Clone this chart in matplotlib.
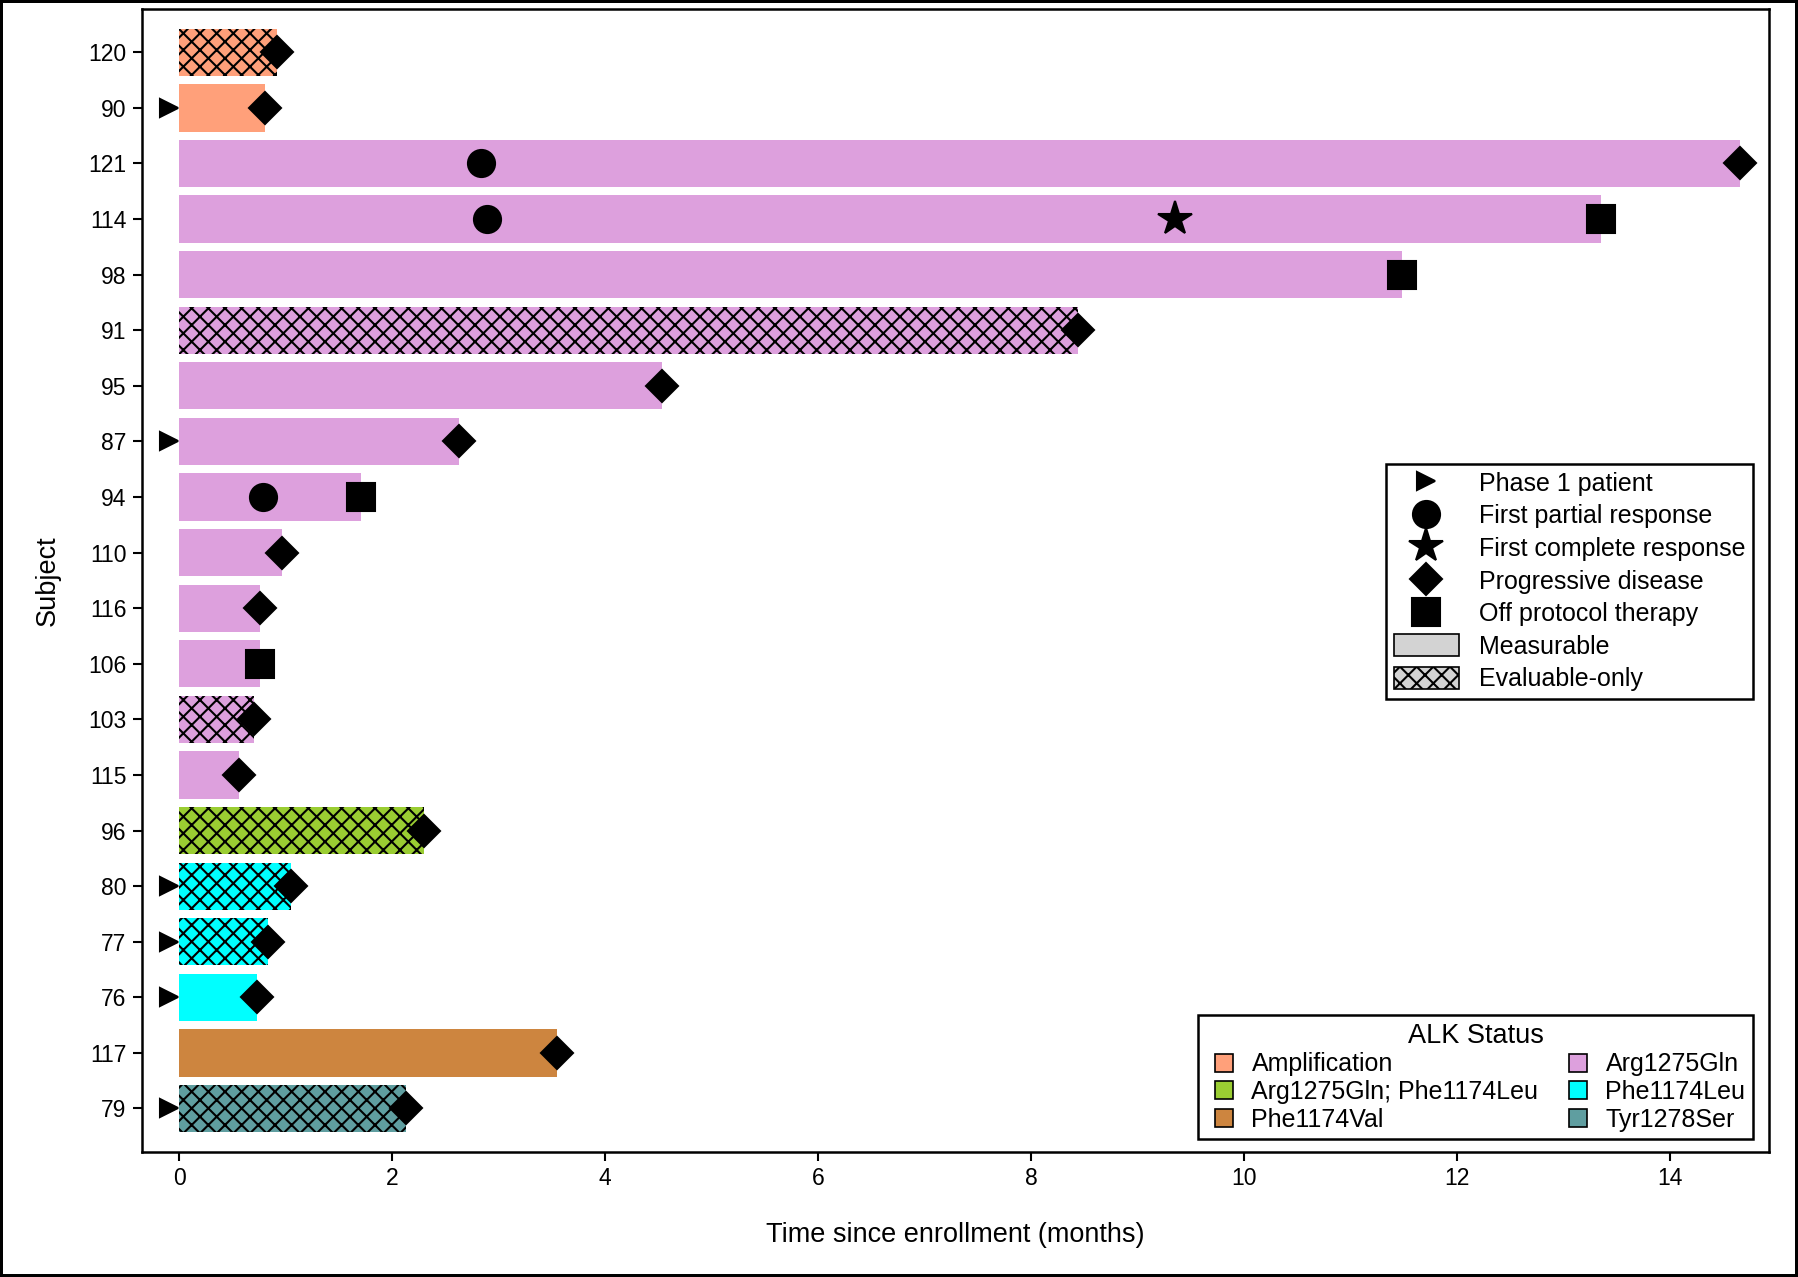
import numpy as np
import matplotlib.pyplot as plt
from matplotlib.lines import Line2D
from matplotlib.patches import Patch

plt.rcParams['font.family'] = ['Liberation Sans', 'DejaVu Sans']
plt.rcParams['hatch.linewidth'] = 1.0

# Subjects, top to bottom
subjects = ['120', '90', '121', '114', '98', '91', '95', '87', '94', '110',
            '116', '106', '103', '115', '96', '80', '77', '76', '117', '79']
durations = [0.92, 0.80, 14.66, 13.35, 11.48, 8.44, 4.53, 2.63, 1.71, 0.96,
             0.76, 0.76, 0.70, 0.56, 2.30, 1.05, 0.83, 0.73, 3.55, 2.13]
status = ['Amplification', 'Amplification'] + ['Arg1275Gln'] * 12 + \
         ['Arg1275Gln; Phe1174Leu', 'Phe1174Leu', 'Phe1174Leu', 'Phe1174Leu',
          'Phe1174Val', 'Tyr1278Ser']
evaluable_only = ['120', '91', '103', '96', '80', '77', '79']
phase1 = ['90', '87', '80', '77', '76', '79']

partial_subj = ['121', '114', '94']
partial_time = [2.83, 2.89, 0.79]
complete_subj = ['114']
complete_time = [9.35]
progress_subj = ['120', '90', '121', '91', '95', '87', '110', '116', '103',
                 '115', '96', '80', '77', '76', '117', '79']
progress_time = [0.92, 0.80, 14.66, 8.44, 4.53, 2.63, 0.96, 0.76, 0.70,
                 0.56, 2.30, 1.05, 0.83, 0.73, 3.55, 2.13]
offprot_subj = ['114', '98', '94', '106']
offprot_time = [13.35, 11.48, 1.71, 0.76]

# legend order (filled column by column, reads row by row)
status_order = ['Amplification', 'Arg1275Gln; Phe1174Leu', 'Phe1174Val',
                'Arg1275Gln', 'Phe1174Leu', 'Tyr1278Ser']
status_colors = {'Amplification': '#FFA07A', 'Arg1275Gln': '#DDA0DD',
                 'Arg1275Gln; Phe1174Leu': '#9ACD32', 'Phe1174Leu': '#00FFFF',
                 'Phe1174Val': '#CD853F', 'Tyr1278Ser': '#5F9EA0'}

n = len(subjects)
ypos = {s: n - 1 - i for i, s in enumerate(subjects)}

fig = plt.figure(figsize=(1798 / 150, 1277 / 150), dpi=150)
fig.patch.set_edgecolor('black')
fig.patch.set_linewidth(2)
ax = fig.add_axes([0.079, 0.098, 0.905, 0.895])

for s, d, st in zip(subjects, durations, status):
    if s in evaluable_only:
        ax.barh(ypos[s], d, height=0.85, color=status_colors[st],
                edgecolor='black', linewidth=0, hatch='xxx', zorder=2)
    else:
        ax.barh(ypos[s], d, height=0.85, color=status_colors[st],
                edgecolor='none', zorder=2)

ms = dict(color='black', linestyle='none', zorder=3)
ax.plot([-0.1] * len(phase1), [ypos[s] for s in phase1], marker='>', markersize=9, **ms)
ax.plot(partial_time, [ypos[s] for s in partial_subj], marker='o', markersize=13, **ms)
ax.plot(complete_time, [ypos[s] for s in complete_subj], marker='*', markersize=17, **ms)
ax.plot(progress_time, [ypos[s] for s in progress_subj], marker='D', markersize=11, **ms)
ax.plot(offprot_time, [ypos[s] for s in offprot_subj], marker='s', markersize=13, **ms)

ax.set_xlim(-0.35, 14.93)
ax.set_ylim(-0.78, n - 1 + 0.78)
ax.set_yticks(range(n))
ax.set_yticklabels(subjects[::-1])
ax.set_xticks(range(0, 15, 2))
ax.tick_params(axis='both', labelsize=11, length=4.5, width=1, pad=3)
for sp in ax.spines.values():
    sp.set_linewidth(1.2)
ax.set_xlabel('Time since enrollment (months)', fontsize=13, labelpad=15)
ax.set_ylabel('Subject', fontsize=13, labelpad=13)

# Marker / measurability legend
h1 = [Line2D([], [], marker='>', markersize=9, **ms),
      Line2D([], [], marker='o', markersize=13, **ms),
      Line2D([], [], marker='*', markersize=17, **ms),
      Line2D([], [], marker='D', markersize=11, **ms),
      Line2D([], [], marker='s', markersize=13, **ms),
      Patch(facecolor='#d3d3d3', edgecolor='black', linewidth=0.8),
      Patch(facecolor='#d3d3d3', edgecolor='black', linewidth=0.8, hatch='xxx')]
l1 = ['Phase 1 patient', 'First partial response', 'First complete response',
      'Progressive disease', 'Off protocol therapy', 'Measurable', 'Evaluable-only']
leg1 = ax.legend(h1, l1, loc='upper right', bbox_to_anchor=(0.99, 0.602),
                 borderaxespad=0, fontsize=12, fancybox=False, framealpha=1,
                 edgecolor='black', handlelength=2.6, handleheight=0.95,
                 labelspacing=0.33, borderpad=0.3)
leg1.get_frame().set_linewidth(1.2)
ax.add_artist(leg1)

# ALK status legend
h2 = [Line2D([], [], marker='s', markersize=9, markerfacecolor=status_colors[k],
             markeredgecolor='black', markeredgewidth=0.8, linestyle='none')
      for k in status_order]
leg2 = ax.legend(h2, status_order, title='ALK Status', ncol=2,
                 loc='lower right', bbox_to_anchor=(0.99, 0.011),
                 borderaxespad=0, fontsize=12, title_fontsize=13,
                 fancybox=False, framealpha=1, edgecolor='black',
                 handlelength=1.44, labelspacing=0.15,
                 handletextpad=0.38, columnspacing=0.86, borderpad=0.3)
leg2.get_frame().set_linewidth(1.2)

fig.savefig('out.png', dpi=150)
